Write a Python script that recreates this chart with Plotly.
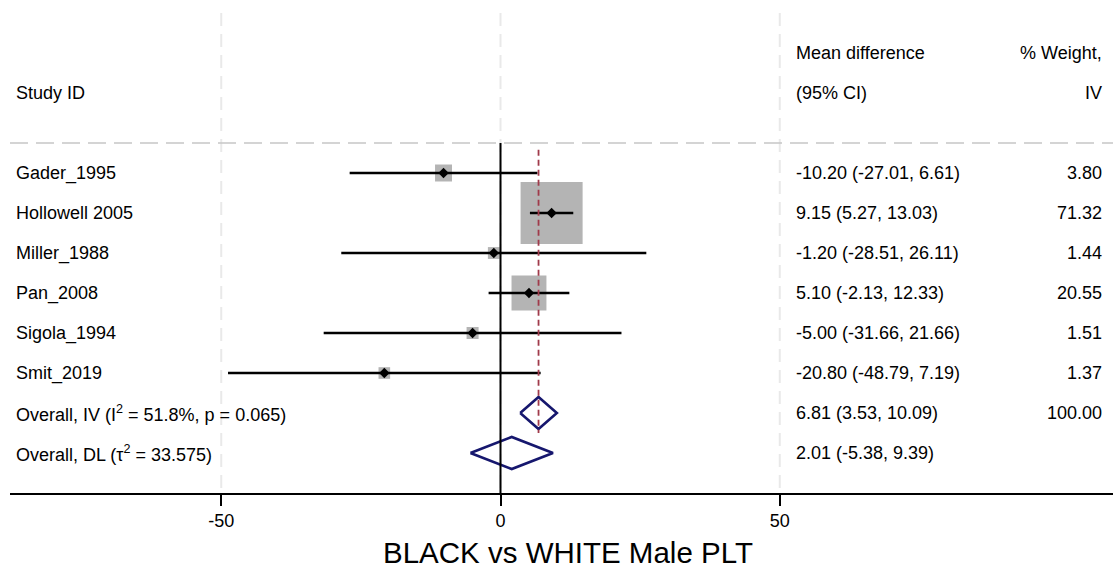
import plotly.graph_objects as go
import numpy as np

# ---------------- data ----------------
studies = ["Gader_1995", "Hollowell 2005", "Miller_1988", "Pan_2008", "Sigola_1994", "Smit_2019"]
md = [-10.20, 9.15, -1.20, 5.10, -5.00, -20.80]
lo = [-27.01, 5.27, -28.51, -2.13, -31.66, -48.79]
hi = [6.61, 13.03, 26.11, 12.33, 21.66, 7.19]
weights = [3.80, 71.32, 1.44, 20.55, 1.51, 1.37]

overall_labels = ["Overall, IV (I<sup>2</sup> = 51.8%, p = 0.065)", "Overall, DL (τ<sup>2</sup> = 33.575)"]
overall_md = [6.81, 2.01]
overall_lo = [3.53, -5.38]
overall_hi = [10.09, 9.39]
overall_w = ["100.00", ""]

tick_vals = [-50, 0, 50]
tick_text = ["-50", "0", "50"]
x_title = "BLACK vs WHITE Male PLT"

# ---------------- layout helpers ----------------
W, H = 1113, 569
L_PX, R_PX = 10, 1113
FONT = "Liberation Sans, Arial, sans-serif"
FS = 18
NAVY = "#16176e"
MAROON = "#a03a4a"


def px2paper(p):
    return (p - L_PX) / (R_PX - L_PX)

fig = go.Figure()

n = len(studies)
rows = list(range(n))
orow = [n, n + 1]

# gray weight boxes
box_sizes = [3.5 + 6.93 * np.sqrt(w) for w in weights]
fig.add_trace(go.Scatter(x=md, y=rows, mode="markers",
                         marker=dict(symbol="square", size=box_sizes, color="#b4b4b4",
                                     opacity=1, line=dict(width=0)),
                         hoverinfo="skip", showlegend=False))

# CI lines
for i in range(n):
    fig.add_trace(go.Scatter(x=[lo[i], hi[i]], y=[rows[i], rows[i]], mode="lines",
                             line=dict(color="black", width=2.6),
                             hoverinfo="skip", showlegend=False))

# point estimates
fig.add_trace(go.Scatter(x=md, y=rows, mode="markers",
                         marker=dict(symbol="diamond", size=8, color="black"),
                         hoverinfo="skip", showlegend=False))

# overall diamonds
for j in range(2):
    r = orow[j]
    fig.add_trace(go.Scatter(x=[overall_lo[j], overall_md[j], overall_hi[j], overall_md[j], overall_lo[j]],
                             y=[r, r - 0.4, r, r + 0.4, r], mode="lines",
                             line=dict(color=NAVY, width=2.6),
                             hoverinfo="skip", showlegend=False))

shapes = []
# light vertical gridlines
for tv in tick_vals:
    shapes.append(dict(type="line", xref="x", yref="y", x0=tv, x1=tv, y0=-4.0, y1=n + 2,
                       line=dict(color="#e9e9e9", width=2, dash="13px,8px"), layer="below"))
# header separator
shapes.append(dict(type="line", xref="paper", yref="y", x0=0, x1=1, y0=-0.75, y1=-0.75,
                   line=dict(color="#c6c6c6", width=1.6, dash="18px,8px")))
# zero line
shapes.append(dict(type="line", xref="x", yref="y", x0=0, x1=0, y0=-0.75, y1=n + 2,
                   line=dict(color="black", width=2)))
# overall effect line
shapes.append(dict(type="line", xref="x", yref="y", x0=overall_md[0], x1=overall_md[0],
                   y0=-0.58, y1=orow[0] + 0.5,
                   line=dict(color=MAROON, width=1.8, dash="6px,4px")))

ann = []

def txt(x, y, s, anchor="left", size=FS):
    ann.append(dict(xref="paper", yref="y", x=x, y=y, text=s, showarrow=False,
                    xanchor=anchor, yanchor="middle",
                    font=dict(family=FONT, size=size, color="black")))

x_lab = px2paper(14)
x_ci = px2paper(794)
x_w = px2paper(1104)

# headers
txt(x_lab, -2, "Study ID")
txt(x_ci, -3, "Mean difference")
txt(x_ci, -2, "(95% CI)")
txt(x_w, -3, "% Weight,", "right")
txt(x_w, -2, "IV", "right")

for i in range(n):
    txt(x_lab, rows[i], studies[i])
    txt(x_ci, rows[i], f"{md[i]:.2f} ({lo[i]:.2f}, {hi[i]:.2f})")
    txt(x_w, rows[i], f"{weights[i]:.2f}", "right")
for j in range(2):
    txt(x_lab, orow[j], overall_labels[j])
    txt(x_ci, orow[j], f"{overall_md[j]:.2f} ({overall_lo[j]:.2f}, {overall_hi[j]:.2f})")
    if overall_w[j]:
        txt(x_w, orow[j], overall_w[j], "right")

# axis title
ann.append(dict(xref="paper", yref="paper", x=px2paper(568), y=(493 - 552) / 493,
                text=x_title, showarrow=False, xanchor="center", yanchor="middle",
                height=32, font=dict(family=FONT, size=29.5, color="black")))

zero_px = 500.5
scale = 5.585
x_range = [(L_PX - zero_px) / scale, (R_PX - zero_px) / scale]

fig.update_layout(
    width=W, height=H,
    margin=dict(l=L_PX, r=W - R_PX, t=0, b=H - 493),
    paper_bgcolor="white", plot_bgcolor="white",
    shapes=shapes, annotations=ann,
    xaxis=dict(range=x_range, tickvals=tick_vals, ticktext=tick_text,
               showgrid=False, zeroline=False, showline=True, linecolor="black", linewidth=1.6,
               ticks="outside", ticklen=11, tickwidth=1.6, tickcolor="black",
               tickfont=dict(family=FONT, size=FS, color="black")),
    yaxis=dict(range=[n + 2, n + 2 - 493 / 40], showgrid=False, zeroline=False,
               showticklabels=False, showline=False, ticks=""),
)

fig.write_html("out.html")
